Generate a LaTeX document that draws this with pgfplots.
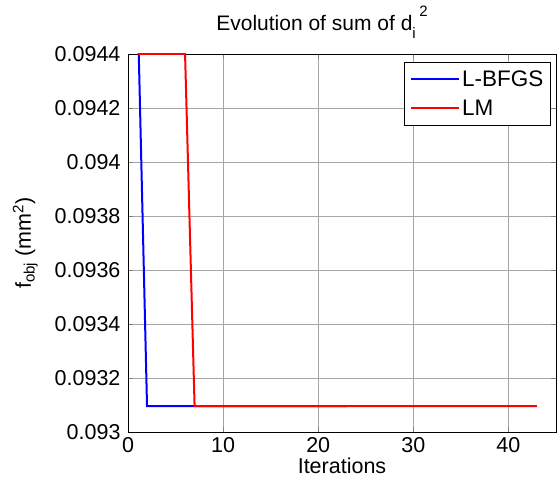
\documentclass[border=0pt]{standalone}
\usepackage{pgfplots}
\pgfplotsset{compat=1.18}
\usepackage{fontspec}
\setmainfont{Liberation Sans}
\usetikzlibrary{calc}
\begin{document}
\begin{tikzpicture}
\begin{axis}[
  scale only axis,
  width=428pt, height=378pt,
  xmin=0, xmax=45, ymin=0.093, ymax=0.0944,
  xtick={0,10,20,30,40},
  ytick={0.093,0.0932,0.0934,0.0936,0.0938,0.094,0.0942,0.0944},
  scaled y ticks=false,
  yticklabel style={/pgf/number format/fixed, /pgf/number format/precision=4, xshift=-4pt},
  xticklabel style={yshift=-2pt},
  /pgf/number format/assume math mode=true,
  tick label style={font=\fontsize{21.5}{24}\selectfont},
  label style={font=\fontsize{21.5}{24}\selectfont},
  title style={font=\fontsize{21}{24}\selectfont, yshift=6pt, xshift=-20pt},
  grid=major,
  major grid style={gray!70, line width=0.6pt},
  tick align=inside,
  major tick length=5pt,
  axis line style={black, line width=0.8pt},
  xlabel={Iterations},
  ylabel={f\textsubscript{obj} (mm\textsuperscript{2})},
  xlabel style={yshift=2pt},
  ylabel style={yshift=10pt},
  title={Evolution of sum of d\raisebox{-0.7ex}{\fontsize{15}{16}\selectfont i}\,\raisebox{1.3ex}{\fontsize{15}{16}\selectfont 2}},
  legend style={at={(0.988,0.978)}, anchor=north east, draw=black, line width=0.8pt,
    font=\fontsize{22.5}{25}\selectfont, inner xsep=5pt, inner ysep=6pt, row sep=8pt},
  legend cell align=left,
  legend image code/.code={\draw[#1] (0cm,0cm) -- (1.7cm,0cm);},
  clip=true,
]
\addplot[blue, line width=2pt] coordinates {
 (1,0.0946) (2,0.0930963) (3,0.0930963) (5,0.0930963) (10,0.0930963) (15,0.0930963) (20,0.0930963) (23,0.0930963)
};
\addlegendentry{L-BFGS}
\addplot[red, line width=2pt] coordinates {
 (1,0.09440) (6,0.09440) (7,0.0930963) (10,0.0930963) (20,0.0930963) (30,0.0930963) (40,0.0930963) (43,0.0930963)
};
\addlegendentry{LM}
\end{axis}
\pgfresetboundingbox
\path ($(current axis.south west)+(-128pt,-56pt)$) rectangle ($(current axis.north east)+(3pt,54pt)$);
\end{tikzpicture}
\end{document}
